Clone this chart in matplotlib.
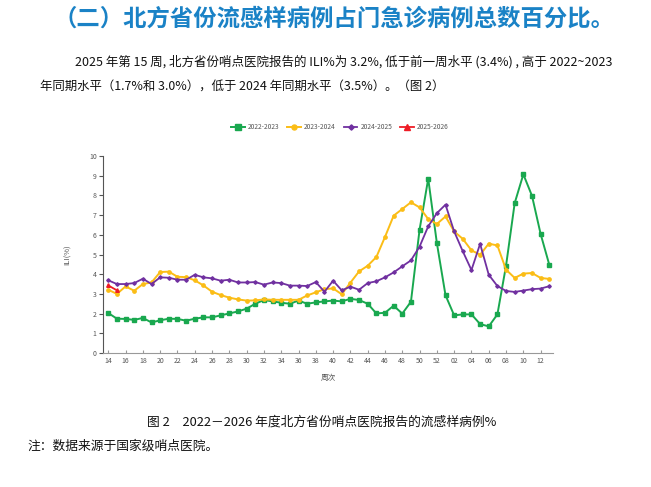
import numpy as np
import matplotlib
matplotlib.use("Agg")
from matplotlib import pyplot as plt

plt.rcParams['font.family'] = ['Noto Sans CJK SC', 'DejaVu Sans']

# week labels: 14..52 then 01..13
weeks = [str(w) for w in range(14, 53)] + ["%02d" % w for w in range(1, 14)]

ili_2022 = [2.03, 1.74, 1.73, 1.68, 1.78, 1.55, 1.66, 1.74, 1.73, 1.64,
            1.74, 1.81, 1.81, 1.91, 2.01, 2.11, 2.25, 2.50, 2.69, 2.62,
            2.55, 2.50, 2.66, 2.50, 2.57, 2.62, 2.66, 2.62, 2.75, 2.69,
            2.50, 2.01, 2.04, 2.40, 2.00, 2.60, 6.26, 8.85, 5.58, 2.93,
            1.91, 1.96, 1.96, 1.47, 1.35, 1.96, 4.43, 7.61, 9.07, 7.98,
            6.04, 4.48]
ili_2023 = [3.21, 3.00, 3.38, 3.16, 3.50, 3.58, 4.11, 4.13, 3.87, 3.85,
            3.69, 3.43, 3.11, 2.94, 2.81, 2.72, 2.66, 2.67, 2.72, 2.70,
            2.70, 2.70, 2.70, 2.92, 3.08, 3.24, 3.28, 2.98, 3.57, 4.14,
            4.43, 4.87, 5.89, 6.97, 7.31, 7.65, 7.39, 6.80, 6.55, 6.93,
            6.17, 5.79, 5.21, 4.99, 5.55, 5.46, 4.23, 3.81, 4.03, 4.06,
            3.81, 3.76]
ili_2024 = [3.69, 3.50, 3.50, 3.55, 3.77, 3.50, 3.84, 3.82, 3.72, 3.72,
            3.97, 3.84, 3.79, 3.67, 3.72, 3.58, 3.58, 3.60, 3.47, 3.58,
            3.55, 3.42, 3.42, 3.40, 3.60, 3.11, 3.67, 3.18, 3.37, 3.21,
            3.55, 3.64, 3.84, 4.09, 4.40, 4.70, 5.40, 6.43, 7.10, 7.53,
            6.17, 5.16, 4.21, 5.54, 3.97, 3.40, 3.15, 3.10, 3.17, 3.24,
            3.27, 3.39]
ili_2025 = [3.43, 3.18]

series = [
    ("2022-2023", ili_2022, "#19a84f", "s", 2.6, 1.4),
    ("2023-2024", ili_2023, "#fbbd16", "o", 2.4, 1.4),
    ("2024-2025", ili_2024, "#7030a0", "D", 1.8, 1.3),
    ("2025-2026", ili_2025, "#ee1c25", "^", 2.6, 1.3),
]

fig = plt.figure(figsize=(6.51, 4.87), dpi=100)
ax = fig.add_axes([103 / 651, 1 - 353 / 487, 450 / 651, 197 / 487])

x = np.arange(len(weeks))
for name, vals, color, marker, ms, lw in series:
    ax.plot(x[:len(vals)], vals, color=color, marker=marker, markersize=ms,
            linewidth=lw, label=name)

ax.set_xlim(-0.61, 51.43)
ax.set_ylim(0, 10)
ax.set_yticks(range(0, 11))
ax.set_xticks(x[::2])
ax.set_xticklabels(weeks[::2])
for s in ("top", "right"):
    ax.spines[s].set_visible(False)
ax.spines["left"].set_color("#555555")
ax.spines["bottom"].set_color("#999999")
ax.tick_params(axis="y", direction="out", length=3, width=0.8, colors="#555555",
               labelsize=5, pad=1.5)
ax.tick_params(axis="x", direction="in", length=2.5, width=0.8, colors="#999999",
               labelcolor="#555555", labelsize=5, pad=3)
ax.set_ylabel("ILI(%)", fontsize=5.5, color="#555555", labelpad=12)
ax.set_xlabel("周次", fontsize=5.5, color="#555555", labelpad=6)

ax.legend(loc="center", bbox_to_anchor=(340 / 651, 1 - 127 / 487),
          bbox_transform=fig.transFigure, ncol=4, frameon=False,
          fontsize=4.8, handlelength=2.0, columnspacing=1.2, handletextpad=0.5,
          markerscale=1.5, labelcolor="#555555")

fig.text(334 / 651, 1 - 19 / 487, "（二）北方省份流感样病例占门急诊病例总数百分比。",
         ha="center", va="center", fontsize=16.8, fontweight="bold", color="#1a82c6")
fig.text(75 / 651, 1 - 62 / 487,
         "2025 年第 15 周, 北方省份哨点医院报告的 ILI%为 3.2%, 低于前一周水平 (3.4%) , 高于 2022~2023",
         ha="left", va="center", fontsize=9.0, color="#111111")
fig.text(40 / 651, 1 - 86 / 487,
         "年同期水平（1.7%和 3.0%），低于 2024 年同期水平（3.5%）。（图 2）",
         ha="left", va="center", fontsize=8.95, color="#111111")
fig.text(322 / 651, 1 - 422 / 487,
         "图 2　2022－2026 年度北方省份哨点医院报告的流感样病例%",
         ha="center", va="center", fontsize=9.2, color="#111111")
fig.text(27 / 651, 1 - 446 / 487, "注：数据来源于国家级哨点医院。",
         ha="left", va="center", fontsize=9.2, color="#111111")

fig.savefig("out.png", dpi=100)
